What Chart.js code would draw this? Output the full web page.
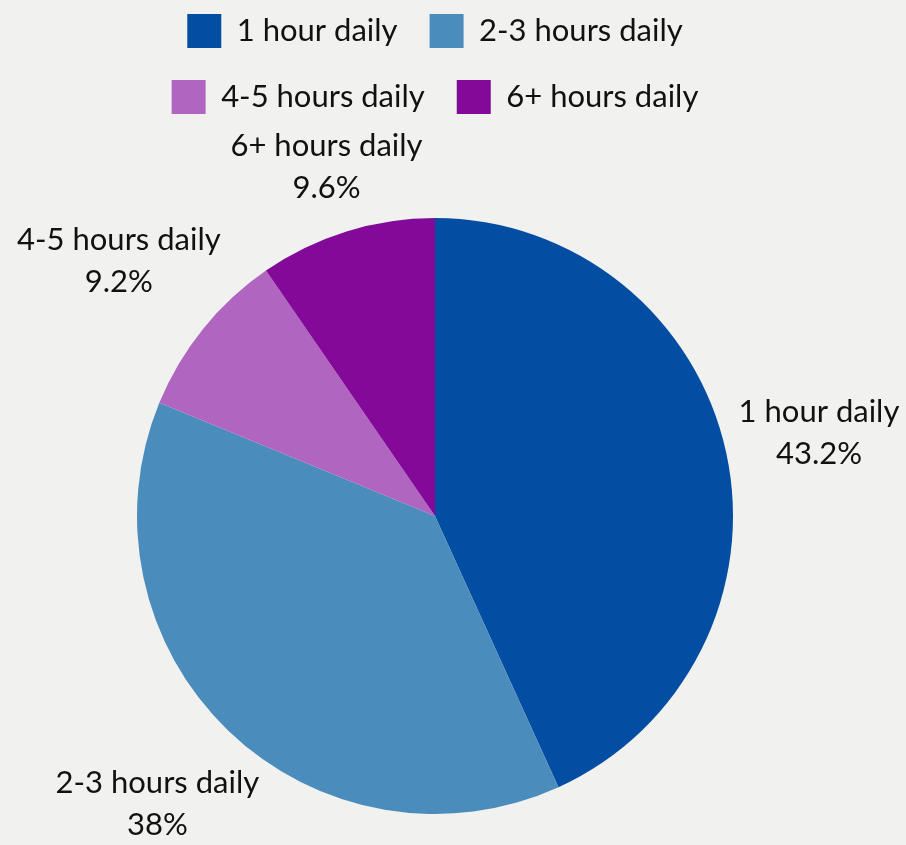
<!DOCTYPE html>
<html>
<head>
<meta charset="utf-8">
<script src="https://cdn.jsdelivr.net/npm/chart.js@4"></script>
<style>
  html, body { margin: 0; padding: 0; background: #f1f1ef; }
  #wrap { width: 906px; height: 845px; }
</style>
</head>
<body>
<div id="wrap"><canvas id="pieChart" width="906" height="845"></canvas></div>
<script>
var categories = ['1 hour daily', '2-3 hours daily', '4-5 hours daily', '6+ hours daily'];
var shares = [43.2, 38, 9.2, 9.6];
var shareLabels = ['43.2%', '38%', '9.2%', '9.6%'];
var colors = ['#034ea2', '#4a8dbd', '#b066c0', '#830a98'];

var FONT = 'Lato, "Noto Sans", sans-serif';

// make room between the legend and the pie
var legendSpace = {
    id: 'legendSpace',
    beforeInit: function (chart) {
        var fit = chart.legend.fit;
        chart.legend.fit = function () {
            fit.call(chart.legend);
            this.height += 94;
        };
    }
};

// two-line labels outside each slice
var outsideLabels = {
    id: 'outsideLabels',
    afterDraw: function (chart) {
        var ctx = chart.ctx;
        var meta = chart.getDatasetMeta(0);
        ctx.save();
        ctx.font = '31px ' + FONT;
        ctx.fillStyle = '#111';
        ctx.textAlign = 'center';
        ctx.textBaseline = 'middle';
        meta.data.forEach(function (arc, i) {
            var mid = (arc.startAngle + arc.endAngle) / 2;
            var c = Math.cos(mid), s = Math.sin(mid);
            var hw = Math.max(ctx.measureText(categories[i]).width, ctx.measureText(shareLabels[i]).width) / 2;
            var d = arc.outerRadius + 10 + Math.abs(c) * hw + Math.abs(s) * 30;
            var x = arc.x + c * d, y = arc.y + s * d;
            ctx.fillText(categories[i], x, y - 21);
            ctx.fillText(shareLabels[i], x, y + 21);
        });
        ctx.restore();
    }
};

new Chart(document.getElementById('pieChart').getContext('2d'), {
    type: 'pie',
    data: {
        labels: categories,
        datasets: [{
            data: shares,
            backgroundColor: colors,
            borderWidth: 0
        }]
    },
    options: {
        responsive: false,
        animation: false,
        layout: { padding: { top: -18, right: 136, bottom: 31, left: 100 } },
        plugins: {
            legend: {
                position: 'top',
                labels: {
                    boxWidth: 34,
                    boxHeight: 34,
                    padding: 32,
                    color: '#111',
                    font: { family: FONT, size: 31 }
                }
            },
            tooltip: { enabled: false }
        }
    },
    plugins: [legendSpace, outsideLabels]
});
</script>
</body>
</html>
